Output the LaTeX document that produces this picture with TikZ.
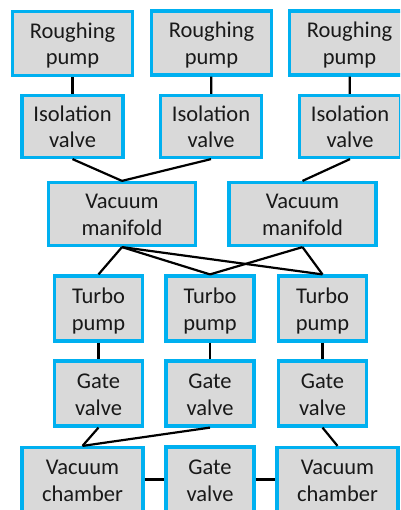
\documentclass[tikz,border=0pt]{standalone}
\usepackage{fontspec}
\setmainfont{Carlito}
\definecolor{boxblue}{HTML}{00B0F0}
\definecolor{boxfill}{HTML}{D9D9D9}
\newcommand\twoln[2]{\rule{0pt}{21.5pt}#1\\#2\rule[-5pt]{0pt}{5pt}}
\begin{document}
\begin{tikzpicture}[x=1pt,y=-1pt,
  box/.style={draw=boxblue, fill=boxfill, line width=3.2pt, align=center,
    inner sep=0pt, font=\fontsize{22.5}{26.5}\selectfont, text=black!90},
  wide/.style={box, minimum width=120pt, minimum height=64pt},
  iso/.style={box, minimum width=101pt, minimum height=62pt},
  man/.style={box, minimum width=147pt, minimum height=63pt},
  small/.style={box, minimum width=88pt, minimum height=65pt},
  cham/.style={box, minimum width=121pt, minimum height=64pt},
  conn/.style={line width=2.2pt, black}]
\useasboundingbox (0,0) rectangle (400,510);
\clip (0,0) rectangle (400,510);
\fill[white] (0,0) rectangle (400,510);
% roughing pumps
\node[wide] (r1) at (72.5,43.5) {\twoln{Roughing}{pump}};
\node[wide] (r2) at (211.5,43) {\twoln{Roughing}{pump}};
\node[wide] (r3) at (349.5,43) {\twoln{Roughing}{pump}};
% isolation valves
\node[iso] (i1) at (72.5,126.5) {\twoln{Isolation}{valve}};
\node[iso] (i2) at (211,126.5) {\twoln{Isolation}{valve}};
\node[iso] (i3) at (350,126.5) {\twoln{Isolation}{valve}};
% manifolds
\node[man] (m1) at (122,214) {\twoln{Vacuum}{manifold}};
\node[man] (m2) at (302.5,214) {\twoln{Vacuum}{manifold}};
% turbo pumps
\node[small] (t1) at (98.5,308.5) {\twoln{Turbo}{pump}};
\node[small] (t2) at (210,308.5) {\twoln{Turbo}{pump}};
\node[small] (t3) at (322.5,308.5) {\twoln{Turbo}{pump}};
% gate valves
\node[small] (g1) at (98.5,393.5) {\twoln{Gate}{valve}};
\node[small] (g2) at (210,393.5) {\twoln{Gate}{valve}};
\node[small] (g3) at (322.5,393.5) {\twoln{Gate}{valve}};
% chambers row
\node[cham] (c1) at (82.5,479.5) {\twoln{Vacuum}{chamber}};
\node[small] (gm) at (210,479.5) {\twoln{Gate}{valve}};
\node[cham] (c2) at (337.5,479.5) {\twoln{Vacuum}{chamber}};
% connectors
\draw[conn] (r1) -- (i1);
\draw[conn] (r2) -- (i2);
\draw[conn] (r3) -- (i3);
\draw[conn] (i1.south) -- (m1.north);
\draw[conn] (i2.south) -- (m1.north);
\draw[conn] (i3.south) -- (m2.north);
\draw[conn] (m1.south) -- (t1.north);
\draw[conn] (m1.south) -- (t2.north);
\draw[conn] (m1.south) -- (t3.north);
\draw[conn] (m2.south) -- (t2.north);
\draw[conn] (m2.south) -- (t3.north);
\draw[conn] (t1) -- (g1);
\draw[conn] (t2) -- (g2);
\draw[conn] (t3) -- (g3);
\draw[conn] (g1.south) -- (c1.north);
\draw[conn] (g2.south) -- (c1.north);
\draw[conn] (g3.south) -- (c2.north);
\draw[conn] (c1) -- (gm);
\draw[conn] (gm) -- (c2);
\end{tikzpicture}
\end{document}
